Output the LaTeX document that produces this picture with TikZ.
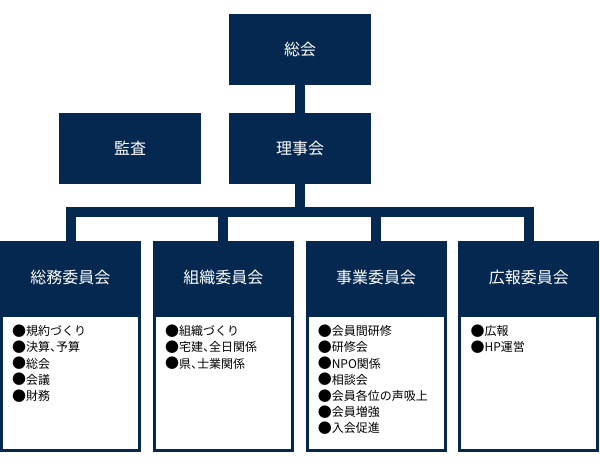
\documentclass[tikz,border=0pt]{standalone}
\usepackage{fontspec}
\setmainfont{Noto Sans CJK JP}
\definecolor{orgblue}{RGB}{4,40,80}
\newcommand{\bul}{\raisebox{-0.6pt}{\fontsize{14}{16.2}\selectfont ●}}

\begin{document}
\begin{tikzpicture}[x=1pt,y=-1pt]
\tikzstyle{every node}+=[inner sep=0pt]
\tikzstyle{box}=[fill=orgblue,text=white,minimum width=142pt,minimum height=71pt,font=\fontsize{16}{16}\selectfont]
\tikzstyle{head}=[box,minimum width=141pt,minimum height=73pt]
\tikzstyle{body}=[draw=orgblue,fill=white,line width=3pt,minimum width=138pt,minimum height=135pt]
\tikzstyle{items}=[anchor=north west,align=left,font=\fontsize{12}{16.2}\selectfont\addfontfeatures{RawFeature=+halt}]
\tikzstyle{link}=[orgblue,line width=10pt]
\useasboundingbox (0,0) rectangle (600,465);
\node [box] (soukai) at (300,49.5) {総会};
\node [box] (rijikai) at (300,148.5) {理事会};
\node [box] (kansa) at (130,148.5) {監査};
\node [head] (h1) at (70.5,277.5) {総務委員会};
\node [head] (h2) at (223.3,277.5) {組織委員会};
\node [head] (h3) at (376.1,277.5) {事業委員会};
\node [head] (h4) at (528.9,277.5) {広報委員会};
\node [body] (w1) at (70.5,383) {};
\node [body] (w2) at (223.3,383) {};
\node [body] (w3) at (376.1,383) {};
\node [body] (w4) at (528.9,383) {};
\node [items] (t1) at ([shift={(12,10.5)}]w1.north west) {\bul 規約づくり\\\bul 決算、予算\\\bul 総会\\\bul 会議\\\bul 財務};
\node [items] (t2) at ([shift={(12,10.5)}]w2.north west) {\bul 組織づくり\\\bul 宅建、全日関係\\\bul 県、士業関係};
\node [items] (t3) at ([shift={(12,10.5)}]w3.north west) {\bul 会員間研修\\\bul 研修会\\\bul NPO関係\\\bul 相談会\\\bul 会員各位の声吸上\\\bul 会員増強\\\bul 入会促進};
\node [items] (t4) at ([shift={(12,10.5)}]w4.north west) {\bul 広報\\\bul HP運営};
\coordinate (bar) at (300,212.5);
\draw [link] (soukai) -- (rijikai);
\draw [link] (rijikai) -- (bar);
\draw [link] (h1) |- (bar) -| (h4);
\draw [link] (h2) -- (h2 |- bar);
\draw [link] (h3) -- (h3 |- bar);
\end{tikzpicture}
\end{document}
